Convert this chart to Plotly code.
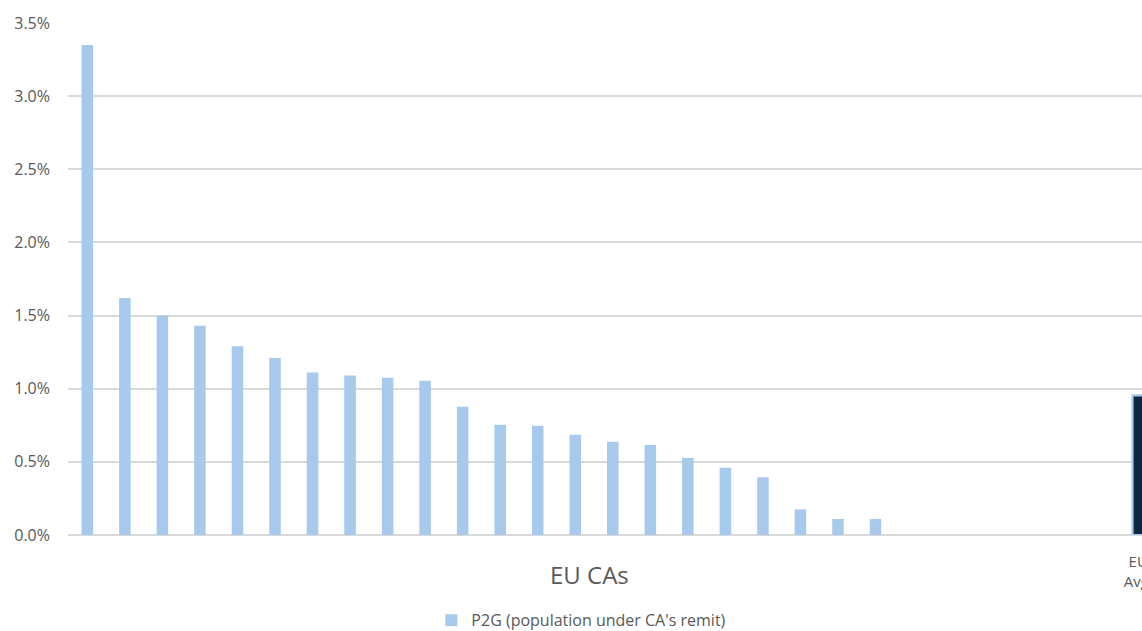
import plotly.graph_objects as go

# P2G ratio (%) for each EU competent authority, sorted; None = no value shown
ca_values = [3.35, 1.62, 1.50, 1.43, 1.29, 1.21, 1.11, 1.09, 1.075, 1.055,
             0.877, 0.753, 0.747, 0.685, 0.637, 0.616, 0.527, 0.459, 0.395,
             0.175, 0.11, 0.11, None, None, None, None, None, None]
eu_avg_label = "EU<br>Avg."
eu_avg_value = 0.955
series_name = "P2G (population under CA's remit)"
axis_title = "EU CAs"
y_ticks = [0, 0.5, 1.0, 1.5, 2.0, 2.5, 3.0, 3.5]

LIGHT = "#A6C9EC"
DARK = "#0E2841"
GRID = "#D9D9D9"
TXT = "#595959"
FONT = "Open Sans, Liberation Sans, Arial, sans-serif"

x_ca = list(range(len(ca_values)))
x_eu = len(ca_values)

fig = go.Figure()
fig.add_trace(go.Bar(
    x=x_ca, y=ca_values, name=series_name,
    marker=dict(color=LIGHT, line=dict(width=0)),
    width=0.307, showlegend=True,
))
fig.add_trace(go.Bar(
    x=[x_eu], y=[eu_avg_value], name="EU Avg.",
    marker=dict(color=DARK, line=dict(color=LIGHT, width=2.2)),
    width=0.307, showlegend=False,
))

fig.update_layout(
    width=1142, height=631,
    margin=dict(l=68, r=0, t=23, b=96, autoexpand=False),
    paper_bgcolor="white", plot_bgcolor="white",
    font=dict(family=FONT, color=TXT),
    barmode="overlay",
    legend=dict(orientation="h", x=0.478, xanchor="center",
                yref="container", y=0.017, yanchor="middle",
                font=dict(size=16, color=TXT), bgcolor="rgba(0,0,0,0)"),
    xaxis=dict(range=[-0.515, 28.1], tickmode="array", tickvals=[x_eu],
               ticktext=[eu_avg_label], tickfont=dict(size=15, color=TXT),
               showgrid=False, zeroline=False, showline=False, ticks="",
               automargin=False, ticklabeloverflow="allow", ticklabelstandoff=16),
    yaxis=dict(range=[0, 3.5], tickmode="array", tickvals=y_ticks,
               ticktext=[f"{v:.1f}%" for v in y_ticks],
               tickfont=dict(size=16, color=TXT),
               showgrid=True, gridcolor=GRID, gridwidth=1.5,
               zeroline=True, zerolinecolor=GRID, zerolinewidth=1.5,
               showline=False, ticks="", ticklabelstandoff=17, automargin=False),
    annotations=[dict(text=axis_title, xref="paper", yref="paper",
                      x=0.486, y=-0.0772, xanchor="center", yanchor="middle",
                      showarrow=False, font=dict(size=24, color=TXT, family=FONT))],
)

fig.write_html("out.html")
